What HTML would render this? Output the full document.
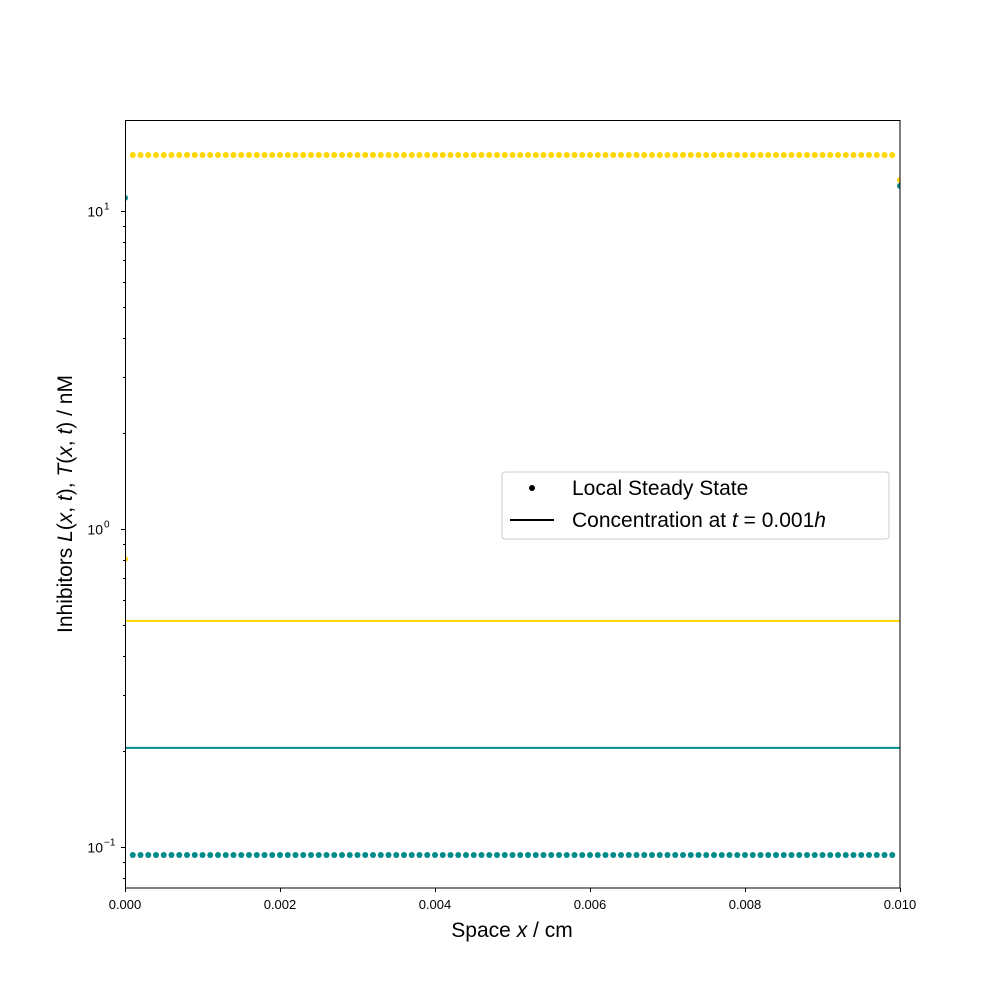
<!DOCTYPE html>
<html><head><meta charset="utf-8"><style>
body{margin:0;background:#fff}
svg text{font-family:"Liberation Sans","DejaVu Sans",sans-serif}
</style></head><body>
<svg id="chart" width="1000" height="1000" xmlns="http://www.w3.org/2000/svg">
<rect width="1000" height="1000" fill="#fff"/>
<g id="marks"></g>
<g id="axes"></g>
<rect x="125.5" y="120.5" width="774.5" height="767.5" fill="none" stroke="#000" stroke-width="1"/>
<text x="512" y="937" font-size="21" text-anchor="middle">Space <tspan font-style="italic">x</tspan> / cm</text>
<text transform="translate(72,504) rotate(-90)" font-size="21" text-anchor="middle">Inhibitors <tspan font-style="italic">L</tspan>(<tspan font-style="italic">x</tspan>, <tspan font-style="italic">t</tspan>), <tspan font-style="italic">T</tspan>(<tspan font-style="italic">x</tspan>, <tspan font-style="italic">t</tspan>) / nM</text>
<g>
<rect x="502" y="472" width="387" height="67" rx="3" fill="#fff" fill-opacity="0.8" stroke="#ccc"/>
<circle cx="532" cy="488" r="3" fill="#000"/>
<text x="572" y="495" font-size="21">Local Steady State</text>
<line x1="510" y1="520" x2="554" y2="520" stroke="#000" stroke-width="2"/>
<text x="572" y="527" font-size="21">Concentration at <tspan font-style="italic">t</tspan> = 0.001<tspan font-style="italic">h</tspan></text>
</g>
</svg>
<script>
const xTicks=[0,0.002,0.004,0.006,0.008,0.010];
const xTickLabels=["0.000","0.002","0.004","0.006","0.008","0.010"];
const yDecades=[-1,0,1];
const dotSteps=101;
const yellowInterior=15.0;
const tealInterior=0.0944;
const yellowEnds=[0.805,12.5];
const tealEnds=[11.0,12.0];
const yellowLine=0.514;
const tealLine=0.205;
const X0=125,X1=900,XMAX=0.01;
function sx(v){return X0+(X1-X0)*v/XMAX;}
function sy(v){return 529-318*Math.log10(v);}
const NS="http://www.w3.org/2000/svg";
const marks=document.getElementById('marks'),axes=document.getElementById('axes');
function mk(tag,attrs,parent){const e=document.createElementNS(NS,tag);for(const k in attrs)e.setAttribute(k,attrs[k]);parent.appendChild(e);return e;}
let l1=mk('line',{x1:sx(0),x2:sx(XMAX),y1:sy(yellowLine),y2:sy(yellowLine),stroke:'#FFD700','stroke-width':2},marks);


let l2=mk('line',{x1:sx(0),x2:sx(XMAX),y1:sy(tealLine),y2:sy(tealLine),stroke:'#008B8B','stroke-width':2},marks);


for(let i=0;i<dotSteps;i++){
  const x=XMAX*i/(dotSteps-1);
  const yv=i===0?yellowEnds[0]:(i===dotSteps-1?yellowEnds[1]:yellowInterior);
  const tv=i===0?tealEnds[0]:(i===dotSteps-1?tealEnds[1]:tealInterior);
  let a=mk('circle',{cx:sx(x),cy:sy(yv),r:3,fill:'#FFD700'},marks);
  
  
  let b=mk('circle',{cx:sx(x),cy:sy(tv),r:3,fill:'#008B8B'},marks);
  
  
}
mk('rect',{x:0,y:0,width:1000,height:120,fill:'#fff'},marks);
mk('rect',{x:0,y:0,width:125,height:1000,fill:'#fff'},marks);
mk('rect',{x:900,y:0,width:100,height:1000,fill:'#fff'},marks);
mk('rect',{x:0,y:888,width:1000,height:112,fill:'#fff'},marks);
xTicks.forEach((v,i)=>{
  mk('line',{x1:sx(v)+0.5,x2:sx(v)+0.5,y1:888,y2:892,stroke:'#000'},axes);
  let t=mk('text',{x:sx(v),y:909,'font-size':13,'text-anchor':'middle'},axes);
  t.textContent=xTickLabels[i];
  
  
});
yDecades.forEach(d=>{
  const y=Math.round(sy(Math.pow(10,d)))+0.5;
  mk('line',{x1:121,x2:125,y1:y,y2:y,stroke:'#000'},axes);
  let t=mk('text',{x:103,y:y+5,'font-size':14,'text-anchor':'end'},axes);
  t.textContent='10';
  
  
  let s=mk('text',{x:104,y:y-2,'font-size':10,'text-anchor':'start'},axes);
  s.textContent=d<0?'\u22121':String(d);
});
for(let d=-2;d<=1;d++)for(let m=2;m<=9;m++){
  const y=Math.round(sy(m*Math.pow(10,d)))+0.5;
  if(y<120||y>888)continue;
  mk('line',{x1:123,x2:125,y1:y,y2:y,stroke:'#000'},axes);
}
</script>
</body></html>
